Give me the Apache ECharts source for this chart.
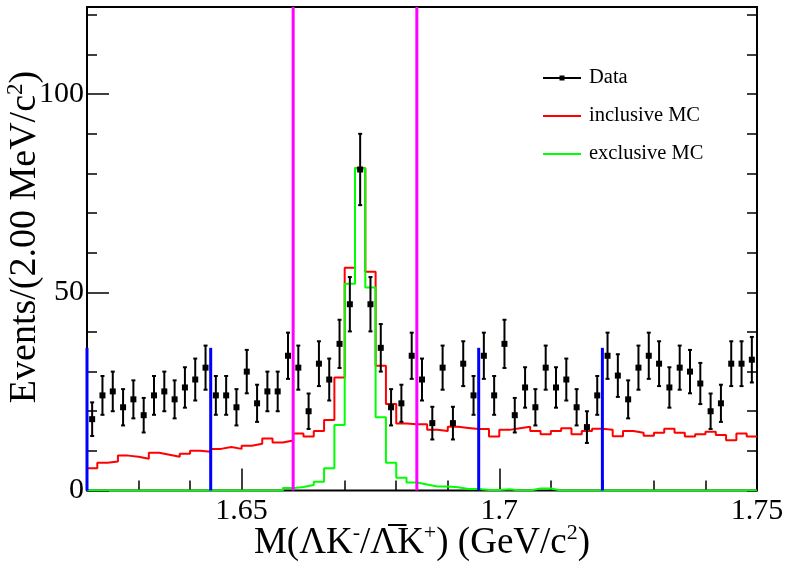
<!DOCTYPE html>
<html>
<head>
<meta charset="utf-8">
<script src="https://cdn.jsdelivr.net/npm/echarts@6/dist/echarts.min.js"></script>
<style>
  html, body { margin: 0; padding: 0; background: #fff; }
  #chart { width: 788px; height: 563px; }
</style>
</head>
<body>
<div id="chart"></div>
<script>
// Binning: 65 bins of 2 MeV from 1.62 to 1.75 GeV
const binLow = 1.62;
const binWidth = 0.002;

// Observed events per bin
const dataCounts = [
  18, 24, 25, 21, 23, 19, 24, 25, 23, 26, 28, 31, 24, 24, 21, 30, 22, 25, 25, 34, 31, 20, 32,
  28, 37, 47, 81, 47, 36, 21, 22, 34, 28, 17, 31, 17, 32, 24, 34, 24,
  37, 19, 26, 21, 31, 26, 28, 21, 16, 24, 34, 29, 23, 31, 34, 32, 26, 31, 30, 27, 20, 22, 32, 32, 33
];

// Inclusive MC prediction per bin
const inclusiveMC = [
  5.6, 7.0, 7.3, 8.8, 8.5, 8.0, 9.5, 9.0, 8.5, 9.3, 10.0, 9.8, 10.5, 11.0, 10.5, 11.3, 11.8, 13.1, 12.1, 12.6, 14.4, 13.6, 15.0,
  17.8, 28.5, 56.2, 81.3, 55.2, 31.5, 21.8, 16.9, 16.7, 16.7, 15.3, 15.0, 16.1, 15.8, 15.5, 15.5, 13.6,
  15.3, 15.7, 16.1, 15.0, 14.2, 15.0, 15.7, 14.2, 15.0, 15.6, 15.3, 13.7, 15.0, 14.6, 13.8, 14.6, 15.6, 14.6, 13.6, 14.2, 14.8, 14.0, 12.7, 14.4, 13.6
];

// Exclusive (signal) MC per bin
const exclusiveMC = [
  0, 0, 0, 0, 0, 0, 0, 0, 0, 0, 0, 0, 0, 0, 0, 0, 0, 0, 0, 0.6, 0.9, 1.4, 2.2,
  5.6, 16.5, 52.2, 81.3, 51.2, 18.5, 7.0, 3.2, 2.0, 1.5, 1.0, 1.0, 0.8, 0.4, 0.4, 0.1, 0.1,
  0.3, 0, 0, 0.5, 0.5, 0, 0, 0, 0, 0, 0, 0, 0, 0, 0, 0, 0, 0, 0, 0, 0, 0, 0, 0, 0
];

// Window boundaries (GeV)
const sidebandEdges = [1.62, 1.644, 1.696, 1.72];
const sidebandHeight = 36;
const signalEdges = [1.66, 1.684];

// Axis ranges and tick labels
const xMin = 1.62, xMax = 1.75;
const yMin = 0, yMax = 122;
const xTickLabels = [1.65, 1.7, 1.75];
const yTickLabels = [0, 50, 100];

const serif = 'Liberation Serif';

const round = v => Math.round(v * 1e6) / 1e6;
const centers = dataCounts.map((_, i) => round(binLow + (i + 0.5) * binWidth));

// Histogram outline: each bin contributes its two edges at the bin content
function histOutline(values) {
  const pts = [];
  values.forEach((v, i) => {
    pts.push([round(binLow + i * binWidth), v]);
    pts.push([round(binLow + (i + 1) * binWidth), v]);
  });
  return pts;
}

function vLineSeries(name, xs, y0, y1, color, width) {
  return {
    type: 'custom', name, z: 10, silent: true,
    data: xs.map(x => [x, y0, y1]),
    renderItem(params, api) {
      const a = api.coord([api.value(0), api.value(1)]);
      const b = api.coord([api.value(0), api.value(2)]);
      return { type: 'line', shape: { x1: a[0], y1: a[1], x2: b[0], y2: b[1] },
               style: { stroke: color, lineWidth: width } };
    }
  };
}

const chart = echarts.init(document.getElementById('chart'), null, { renderer: 'canvas' });

const option = {
  backgroundColor: '#fff',
  animation: false,
  grid: {
    left: 87, right: 31, top: 7, bottom: 72.5, outerBoundsMode: 'none', containLabel: false,
    show: true, borderColor: '#000', borderWidth: 2, backgroundColor: 'transparent'
  },
  xAxis: [
    {
      type: 'value', min: xMin, max: xMax, splitNumber: 3, minInterval: 0.05, maxInterval: 0.05,
      position: 'bottom',
      axisLine: { show: false },
      axisTick: { show: true, inside: true, length: 22, lineStyle: { color: '#000', width: 1.5 } },
      splitLine: { show: false },
      axisLabel: {
        fontFamily: serif, fontSize: 30, color: '#000', margin: 6,
        formatter: v => xTickLabels.some(t => Math.abs(t - v) < 1e-6) ? String(+v.toFixed(2)) : ''
      },
      name: 'M(ΛK{sup|-}/Λ\u0305K{sup|+}) (GeV/c{sup|2})',
      nameLocation: 'middle', nameGap: 32, nameMoveOverlap: false,
      nameTextStyle: {
        fontFamily: serif, fontSize: 37, color: '#000', lineHeight: 42,
        rich: { sup: { fontFamily: serif, fontSize: 22, verticalAlign: 'top', lineHeight: 22 } }
      }
    },
    {
      type: 'value', min: xMin, max: xMax, interval: 0.01, position: 'bottom',
      axisLine: { show: false },
      axisTick: { show: true, inside: true, length: 10, lineStyle: { color: '#000', width: 1.5 } },
      splitLine: { show: false }, axisLabel: { show: false }
    }
  ],
  yAxis: [
    {
      type: 'value', min: yMin, max: yMax, interval: 50, position: 'left',
      axisLine: { show: false },
      axisTick: { show: true, inside: true, length: 22, lineStyle: { color: '#000', width: 1.5 } },
      splitLine: { show: false },
      axisLabel: {
        fontFamily: serif, fontSize: 30, color: '#000', margin: 3,
        formatter: v => yTickLabels.includes(v) ? String(v) : ''
      }
    },
    {
      type: 'value', min: yMin, max: yMax, interval: 10, position: 'left',
      axisLine: { show: false },
      axisTick: { show: true, inside: true, length: 10, lineStyle: { color: '#000', width: 1.5 } },
      splitLine: { show: false }, axisLabel: { show: false }
    },
    {
      type: 'value', min: yMin, max: yMax, interval: 10, position: 'right',
      axisLine: { show: false },
      axisTick: { show: true, inside: true, length: 10, lineStyle: { color: '#000', width: 1.5 } },
      splitLine: { show: false }, axisLabel: { show: false }
    }
  ],
  graphic: [
    {
      type: 'text', x: 25, y: 237, rotation: Math.PI / 2,
      style: {
        text: 'Events/(2.00 MeV/c{sup|2})', fontFamily: serif, fontSize: 38, fill: '#000',
        align: 'center', verticalAlign: 'middle', lineHeight: 42,
        rich: { sup: { fontFamily: serif, fontSize: 23, verticalAlign: 'top', lineHeight: 23 } }
      }
    },
    // legend
    { type: 'line', shape: { x1: 543, y1: 78, x2: 581, y2: 78 }, style: { stroke: '#000', lineWidth: 2 } },
    { type: 'rect', shape: { x: 559.5, y: 75.5, width: 5, height: 5 }, style: { fill: '#000' } },
    { type: 'text', x: 589, y: 78, style: { text: 'Data', fontFamily: serif, fontSize: 20.5, fill: '#000', verticalAlign: 'middle' } },
    { type: 'line', shape: { x1: 543, y1: 116, x2: 581, y2: 116 }, style: { stroke: '#ff0000', lineWidth: 2 } },
    { type: 'text', x: 589, y: 116, style: { text: 'inclusive MC', fontFamily: serif, fontSize: 20.5, fill: '#000', verticalAlign: 'middle' } },
    { type: 'line', shape: { x1: 543, y1: 154, x2: 581, y2: 154 }, style: { stroke: '#00ff00', lineWidth: 2 } },
    { type: 'text', x: 589, y: 154, style: { text: 'exclusive MC', fontFamily: serif, fontSize: 20.5, fill: '#000', verticalAlign: 'middle' } }
  ],
  series: [
    {
      name: 'inclusive MC', type: 'line', data: histOutline(inclusiveMC),
      showSymbol: false, lineStyle: { color: '#ff0000', width: 2 }, z: 3, silent: true
    },
    {
      name: 'exclusive MC', type: 'line', data: histOutline(exclusiveMC),
      showSymbol: false, lineStyle: { color: '#00ff00', width: 2 }, z: 4, silent: true
    },
    {
      name: 'Data', type: 'custom', z: 5, silent: true,
      data: centers.map((x, i) => [x, dataCounts[i], Math.sqrt(dataCounts[i])]),
      renderItem(params, api) {
        const x = api.value(0), y = api.value(1), e = api.value(2);
        const c = api.coord([x, y]);
        const t = api.coord([x, y + e]);
        const b = api.coord([x, y - e]);
        const s = { stroke: '#000', lineWidth: 2 };
        return {
          type: 'group', children: [
            { type: 'line', shape: { x1: c[0], y1: t[1], x2: c[0], y2: b[1] }, style: s },
            { type: 'line', shape: { x1: c[0] - 2, y1: t[1], x2: c[0] + 2, y2: t[1] }, style: s },
            { type: 'line', shape: { x1: c[0] - 2, y1: b[1], x2: c[0] + 2, y2: b[1] }, style: s },
            { type: 'rect', shape: { x: c[0] - 3, y: c[1] - 3, width: 6, height: 6 }, style: { fill: '#000' } }
          ]
        };
      }
    },
    vLineSeries('sideband', sidebandEdges, 0, sidebandHeight, '#0000ff', 3),
    vLineSeries('signal', signalEdges, 0, yMax, '#ff00ff', 3)
  ]
};

chart.setOption(option);
</script>
</body>
</html>
